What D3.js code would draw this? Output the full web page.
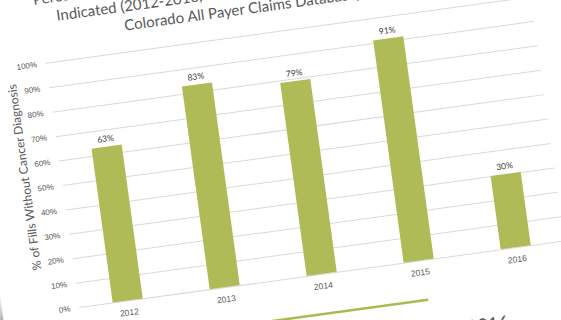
<!DOCTYPE html>
<html>
<head>
<meta charset="utf-8">
<script src="https://cdn.jsdelivr.net/npm/d3@7"></script>
<style>
  html, body { margin: 0; padding: 0; background: #fff; }
  svg { display: block; font-family: Lato, "Open Sans", sans-serif; }
</style>
</head>
<body>
<svg id="chart" width="561" height="320"></svg>
<script>
// Share of opioid fills with no cancer diagnosis, by year
const years = ["2012", "2013", "2014", "2015", "2016"];
const pctFills = [0.63, 0.83, 0.79, 0.91, 0.30];
const yTicks = [0, 0.1, 0.2, 0.3, 0.4, 0.5, 0.6, 0.7, 0.8, 0.9, 1.0];
const titleLines = [
  "Percent of Opioid Prescription Fills Without a Cancer Diagnosis",
  "Indicated (2012-2016, Center for Improving Value in Health Care,",
  "Colorado All Payer Claims Database)"
];
const yTitle = "% of Fills Without Cancer Diagnosis";
const footNote = "June 2016";

const svg = d3.select("#chart");
const defs = svg.append("defs");

// the slide is photographed at a slight tilt
const slide = svg.append("g").attr("transform", "rotate(-7.8)");

// shadow along the slide's left edge
const shade = defs.append("linearGradient")
  .attr("id", "edgeShade").attr("x1", 0).attr("y1", 0).attr("x2", 0).attr("y2", 1);
shade.append("stop").attr("offset", "0%").attr("stop-color", "#444").attr("stop-opacity", 0);
shade.append("stop").attr("offset", "100%").attr("stop-color", "#333").attr("stop-opacity", 0.95);
slide.append("rect")
  .attr("x", -70).attr("y", 290).attr("width", 30).attr("height", 70)
  .attr("fill", "url(#edgeShade)");

const x = d3.scaleBand()
  .domain(years)
  .range([36.8, 526.3])
  .paddingInner(0.69)
  .paddingOuter(0.345);

const y = d3.scaleLinear()
  .domain([0, 1])
  .range([315, 68.5]);

// gridlines + y tick labels
const yAxis = d3.axisLeft(y)
  .tickValues(yTicks)
  .tickFormat(d3.format(".0%"))
  .tickSize(-(526.3 - 36.8))
  .tickPadding(9);

const gy = slide.append("g")
  .attr("transform", "translate(36.8,0)")
  .call(yAxis);
gy.select(".domain").remove();
gy.selectAll(".tick line").attr("stroke", "#d9d9d9").attr("stroke-width", 1);
gy.selectAll(".tick text")
  .attr("fill", "#595959")
  .style("font-size", "8px");

// bars
slide.append("g").selectAll("rect")
  .data(pctFills)
  .join("rect")
  .attr("x", (d, i) => x(years[i]))
  .attr("y", d => y(d))
  .attr("width", x.bandwidth())
  .attr("height", d => y(0) - y(d))
  .attr("fill", "#aebb56");

// value labels
slide.append("g").selectAll("text")
  .data(pctFills)
  .join("text")
  .attr("x", (d, i) => x(years[i]) + x.bandwidth() / 2)
  .attr("y", d => y(d) - 5)
  .attr("text-anchor", "middle")
  .attr("fill", "#404040")
  .style("font-size", "8.5px")
  .text(d3.format(".0%"));

// x axis labels
const xAxis = d3.axisBottom(x).tickSize(0).tickPadding(9);
const gx = slide.append("g")
  .attr("transform", `translate(0,${y(0)})`)
  .call(xAxis);
gx.select(".domain").remove();
gx.selectAll(".tick text")
  .attr("fill", "#595959")
  .style("font-size", "8.5px");

// y axis title
slide.append("text")
  .attr("transform", "translate(4.5,179) rotate(-90)")
  .attr("text-anchor", "middle")
  .attr("fill", "#595959")
  .style("font-size", "12px")
  .text(yTitle);

// chart title
slide.append("g").selectAll("text")
  .data(titleLines)
  .join("text")
  .attr("x", (d, i) => [32.7, 53.7, 119.7][i])
  .attr("y", (d, i) => 9.4 + i * 19)
  .attr("fill", "#595959")
  .style("font-size", "15px")
  .text(d => d);

// divider rule and footer date below the chart
slide.append("line")
  .attr("x1", 100).attr("x2", 383.6)
  .attr("y1", 355).attr("y2", 355)
  .attr("stroke", "#a9bb4f")
  .attr("stroke-width", 2.5);

slide.append("text")
  .attr("x", 460.5).attr("y", 394)
  .attr("text-anchor", "end")
  .attr("fill", "#595959")
  .style("font-size", "18px")
  .text(footNote);
</script>
</body>
</html>
